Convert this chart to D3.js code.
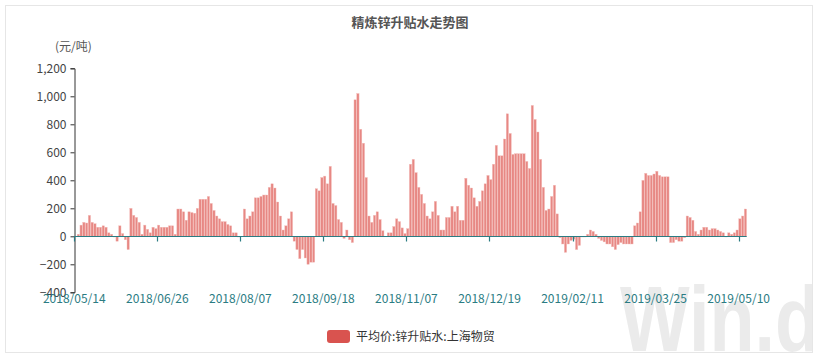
<!DOCTYPE html>
<html>
<head>
<meta charset="utf-8">
<script src="https://cdn.jsdelivr.net/npm/d3@7"></script>
<style>
  body { margin: 0; background: #fff; }
  text { font-family: "Microsoft YaHei", "Noto Sans CJK SC", "Noto Sans", sans-serif; }
</style>
</head>
<body>
<div id="chart"></div>
<script>
// 精炼锌升贴水 (元/吨), one value per trading day from 2018/05/14
var values = [
  0, 15, 80, 100, 95, 150, 100, 90, 65, 65, 75, 65, 25, 15, -5, -35, 75, 20, -25, -95,
  200, 150, 135, 100, 15, 80, 50, 25, 65, 55, 80, 65, 65, 65, 75, 75, 15, 195, 195, 175,
  115, 175, 170, 165, 200, 265, 265, 265, 285, 235, 185, 145, 125, 105, 105, 85, 75, 25, 25, -5,
  -3, 195, 125, 145, 175, 275, 275, 285, 295, 295, 350, 375, 345, 245, 145, 45, 75, 125, 175, -35,
  -95, -160, -95, -155, -200, -185, -185, 340, 325, 420, 430, 375, 500, 235, 220, 120, 100, -15, 45, -25,
  -45, 975, 1020, 765, 665, 420, 145, 100, 150, 175, 120, 40, 0, 25, 25, 70, 125, 105, 60, 20,
  55, 515, 550, 455, 350, 300, 235, 145, 125, 175, 250, 150, 45, 45, 135, 135, 215, 175, 215, 115,
  115, 415, 365, 345, 275, 215, 250, 325, 375, 435, 405, 515, 650, 575, 575, 695, 875, 735, 585, 590,
  590, 590, 590, 535, 485, 935, 835, 745, 550, 350, 185, 195, 285, 365, 160, -10, -55, -115, -55, -30,
  -20, -95, -65, -5, -5, 15, 45, 35, 15, -15, -30, -40, -55, -55, -75, -95, -60, -45, -55, -55,
  -55, -55, 75, 95, 175, 400, 450, 435, 435, 445, 465, 435, 425, 425, 425, -45, -45, -25, -35, -35,
  -10, 145, 135, 115, 35, 15, 45, 65, 65, 45, 55, 55, 45, 35, 25, -5, 25, 15, 25, 45,
  125, 145, 195
];

// one label every 30 trading days
var tickLabels = ["2018/05/14", "2018/06/26", "2018/08/07", "2018/09/18", "2018/11/07",
  "2018/12/19", "2019/02/11", "2019/03/25", "2019/05/10"];
var tickEvery = 30;

var yTicks = [-400, -200, 0, 200, 400, 600, 800, 1000, 1200];

var title = "精炼锌升贴水走势图",
  unit = "(元/吨)",
  seriesName = "平均价:锌升贴水:上海物贸";

var width = 819,
  height = 359,
  teal = "#2b7c83",
  barColor = "#e3736f";

var categories = values.map(function(d, i) { return i; });

var svg = d3.select("#chart")
  .append("svg")
  .attr("width", width)
  .attr("height", height);

// frame + watermark
var clip = svg.append("clipPath").attr("id", "frame-clip");
clip.append("rect").attr("x", 5).attr("y", 5).attr("width", 808).attr("height", 348);

svg.append("text")
  .attr("clip-path", "url(#frame-clip)")
  .attr("x", 620)
  .attr("y", 351)
  .attr("textLength", 200)
  .attr("lengthAdjust", "spacingAndGlyphs")
  .style("font-family", "'Liberation Sans', Arial, sans-serif")
  .style("font-size", "92px")
  .style("font-weight", "bold")
  .style("fill", "#ebebeb")
  .text("Win.d");

svg.append("rect")
  .attr("x", 5.5)
  .attr("y", 5.5)
  .attr("width", 807)
  .attr("height", 347)
  .style("fill", "none")
  .style("stroke", "#e6e6e6");

var x = d3.scaleBand()
  .domain(categories)
  .range([74.3, 746.7])
  .paddingInner(0.16)
  .paddingOuter(0.04);

var y = d3.scaleLinear()
  .domain([-400, 1200])
  .range([292.3, 68.3]);

// bars
svg.append("g")
  .attr("class", "bars")
  .selectAll("rect")
  .data(values)
  .enter()
  .append("rect")
  .attr("x", function(d, i) { return x(i); })
  .attr("width", x.bandwidth())
  .attr("y", function(d) { return y(Math.max(0, d)); })
  .attr("height", function(d) { return Math.abs(y(d) - y(0)); })
  .style("fill", barColor)
  .style("fill-opacity", 0.85)
  .style("stroke", "#f4c0bd")
  .style("stroke-width", 0.4);

// y axis
var yAxis = svg.append("g")
  .attr("transform", "translate(74.5,0)")
  .call(d3.axisLeft(y).tickValues(yTicks).tickSize(4).tickPadding(4).tickFormat(d3.format(",")));
yAxis.select(".domain").style("stroke", "#333");
yAxis.selectAll(".tick line").style("stroke", "#333");
yAxis.selectAll("text")
  .style("font-size", "12px")
  .style("fill", "#444");

// x axis on the zero line
var xTickIdx = tickLabels.map(function(d, i) { return i * tickEvery; });
var xAxis = svg.append("g")
  .attr("transform", "translate(0," + (Math.round(y(0)) + 0.5) + ")");
xAxis.append("line")
  .attr("x1", 74.3)
  .attr("x2", 746.7)
  .style("stroke", teal)
  .style("stroke-width", 1.2);
var xt = xAxis.selectAll(".xtick")
  .data(xTickIdx)
  .enter()
  .append("g")
  .attr("class", "xtick")
  .attr("transform", function(d) { return "translate(" + (Math.round(x(d) - x.step() * x.paddingOuter()) + 0.5) + ",0)"; });
xt.append("line")
  .attr("y2", 5)
  .style("stroke", teal)
  .style("stroke-width", 1.2);

svg.append("g")
  .selectAll("text")
  .data(xTickIdx)
  .enter()
  .append("text")
  .attr("x", function(d) { return x(d) - x.step() * x.paddingOuter(); })
  .attr("y", 303)
  .attr("text-anchor", "middle")
  .style("font-size", "12px")
  .style("fill", teal)
  .text(function(d, i) { return tickLabels[i]; });

// title and unit
svg.append("text")
  .attr("x", 410)
  .attr("y", 27)
  .attr("text-anchor", "middle")
  .style("font-size", "13px")
  .style("font-weight", "bold")
  .style("fill", "#555")
  .text(title);

svg.append("text")
  .attr("x", 55)
  .attr("y", 51)
  .style("font-size", "12px")
  .style("fill", "#555")
  .text(unit);

// legend
var legend = svg.append("g").attr("transform", "translate(327,330)");
legend.append("rect")
  .attr("width", 23)
  .attr("height", 13)
  .attr("rx", 3)
  .style("fill", "#d9534f");
legend.append("text")
  .attr("x", 29)
  .attr("y", 11)
  .style("font-size", "12px")
  .style("fill", "#333")
  .text(seriesName);
</script>
</body>
</html>
